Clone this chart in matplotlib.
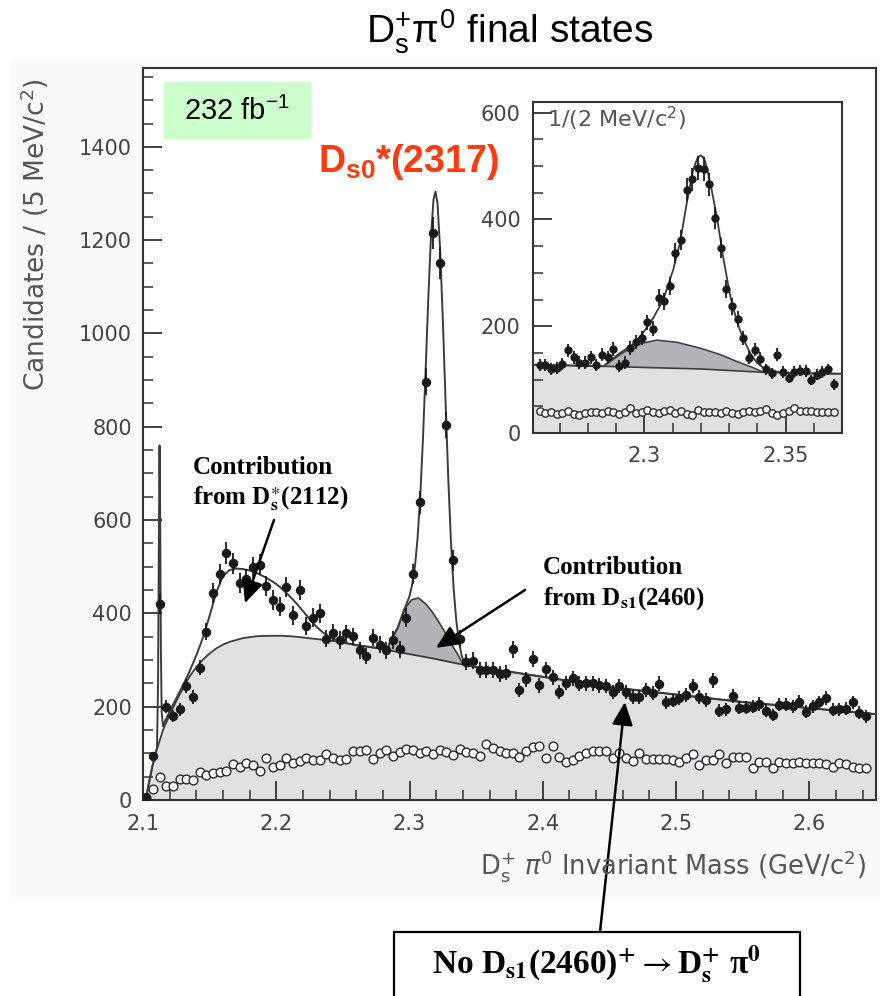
import matplotlib
matplotlib.use('Agg')
import matplotlib.pyplot as plt
import numpy as np
from matplotlib.patches import Rectangle
from matplotlib.ticker import MultipleLocator

plt.rcParams['font.family'] = ['DejaVu Sans']
plt.rcParams['mathtext.fontset'] = 'custom'
plt.rcParams['mathtext.rm'] = 'Liberation Sans'
plt.rcParams['mathtext.it'] = 'Liberation Sans'
plt.rcParams['mathtext.bf'] = 'Liberation Sans:bold'

# -------------------------
# Data: 5 MeV bins, D_s+ pi0 mass
# -------------------------
bin_width = 0.005
mass_bins = 2.1025 + bin_width * np.arange(109)
signal_counts = [
    7, 94, 420, 200, 180, 194, 244, 220, 284, 361,
    444, 484, 529, 507, 466, 473, 499, 504, 459, 429,
    414, 456, 396, 450, 373, 391, 400, 346, 359, 343,
    357, 351, 321, 309, 348, 333, 321, 343, 323, 391,
    484, 638, 897, 1215, 1151, 804, 514, 346, 295, 299,
    279, 279, 279, 270, 273, 323, 236, 259, 302, 246,
    280, 263, 232, 251, 261, 249, 250, 250, 246, 244,
    232, 244, 232, 220, 221, 236, 230, 249, 209, 213,
    218, 225, 244, 220, 214, 257, 191, 194, 223, 198,
    198, 200, 206, 191, 182, 204, 204, 201, 211, 189,
    201, 209, 218, 193, 194, 196, 209, 187, 179,
]
sideband_counts = [
    5, 23, 50, 29, 30, 46, 44, 43, 59, 54,
    57, 61, 63, 77, 71, 79, 74, 63, 89, 71,
    75, 89, 79, 84, 91, 86, 86, 98, 91, 86,
    87, 105, 106, 107, 87, 100, 107, 95, 103, 110,
    108, 100, 104, 98, 107, 102, 96, 110, 103, 100,
    94, 120, 111, 104, 100, 101, 93, 106, 113, 116,
    91, 116, 93, 82, 86, 94, 101, 106, 106, 106,
    89, 101, 89, 84, 100, 87, 87, 87, 87, 86,
    82, 90, 99, 75, 86, 86, 99, 79, 93, 93,
    93, 68, 82, 82, 68, 82, 80, 80, 82, 79,
    79, 79, 77, 70, 79, 77, 71, 68, 68,
]

# fitted background shape
bg_mass = [2.1020, 2.1040, 2.1070, 2.1100, 2.1150, 2.1200, 2.1250, 2.1300, 2.1350,
           2.1400, 2.1450, 2.1500, 2.1550, 2.1600, 2.1650, 2.1750, 2.1850, 2.1950,
           2.2050, 2.2150, 2.2300, 2.2450, 2.2600, 2.2750, 2.2900, 2.3050, 2.3200,
           2.3350, 2.3500, 2.3750, 2.4000, 2.4500, 2.5000, 2.5500, 2.6000, 2.6500]
bg_level = [0, 30, 72, 105, 150, 183, 212, 240, 265,
            285, 301, 314, 325, 333, 339, 347, 351, 352,
            352, 350, 345, 340, 332, 326, 318, 310, 302,
            293, 285, 275, 264, 242, 226, 210, 197, 184]

# D_s1(2460) reflection on top of background
refl_mass = [2.2830, 2.2856, 2.2911, 2.2963, 2.3015, 2.3067, 2.3119, 2.3171,
             2.3223, 2.3275, 2.3327, 2.3366, 2.3405, 2.3440]
refl_level = [322, 340, 369, 410, 429, 433, 421, 403, 380, 355, 328, 310, 290, 288]
refl_base_mass = [2.3350, 2.3200, 2.3050, 2.2900]
refl_base_level = [293, 302, 310, 318]

# total fit
fit_mass = [2.1020, 2.1040, 2.1070, 2.1095, 2.1105, 2.1113, 2.1119, 2.1124, 2.1129,
            2.1134, 2.1140, 2.1150, 2.1170, 2.1200, 2.1250, 2.1300, 2.1350, 2.1400,
            2.1450, 2.1500, 2.1550, 2.1600, 2.1650, 2.1700, 2.1750, 2.1800, 2.1850,
            2.1900, 2.1950, 2.2000, 2.2050, 2.2100, 2.2150, 2.2200, 2.2250, 2.2300,
            2.2350, 2.2400, 2.2450, 2.2500, 2.2550, 2.2600, 2.2750,
            2.2830, 2.2856, 2.2911, 2.2960, 2.3000, 2.3020, 2.3040, 2.3060, 2.3080,
            2.3100, 2.3120, 2.3140, 2.3160, 2.3180, 2.3195, 2.3210, 2.3230, 2.3250,
            2.3270, 2.3290, 2.3310, 2.3330, 2.3350, 2.3370, 2.3390, 2.3410, 2.3440,
            2.3500, 2.3750, 2.4000, 2.4500, 2.5000, 2.5500, 2.6000, 2.6500]
fit_total = [0, 30, 72, 100, 112, 250, 560, 760, 600,
             330, 190, 158, 172, 190, 218, 246, 276, 310,
             348, 395, 445, 480, 493, 496, 495, 492, 487,
             480, 472, 463, 451, 437, 422, 405, 388, 372,
             359, 350, 343, 338, 335, 332, 326,
             322, 340, 369, 408, 437, 462, 499, 560, 649,
             770, 916, 1070, 1204, 1288, 1304, 1278, 1177, 1027,
             856, 694, 558, 456, 387, 341, 311, 294, 288,
             285, 275, 264, 242, 226, 210, 197, 184]

# -------------------------
# Inset data: 2 MeV bins around the D_s0*(2317)
# -------------------------
inset_bins = 2.263 + 0.002 * np.arange(53)
inset_counts = [
    128, 128, 120, 122, 130, 155, 142, 132, 132, 142,
    128, 147, 142, 157, 126, 132, 159, 170, 178, 207,
    195, 253, 247, 275, 337, 362, 456, 475, 497, 494,
    466, 403, 347, 270, 237, 214, 178, 141, 156, 139,
    119, 112, 147, 114, 103, 114, 117, 116, 99, 109,
    114, 119, 91,
]
inset_sideband = [
    42, 38, 40, 36, 38, 42, 36, 34, 38, 40,
    40, 38, 42, 40, 36, 40, 47, 38, 40, 44,
    40, 38, 42, 44, 38, 42, 36, 34, 44, 40,
    40, 40, 38, 42, 38, 36, 40, 42, 40, 42,
    45, 38, 34, 38, 42, 46, 42, 42, 42, 40,
    40, 40, 40,
]
inset_bg_mass = [2.2606, 2.2855, 2.3050, 2.3197, 2.3409, 2.3550, 2.3699]
inset_bg_level = [128, 125, 122, 120, 114, 112, 111]
inset_refl_mass = [2.2855, 2.2914, 2.2973, 2.3044, 2.3114, 2.3197, 2.3268,
                   2.3327, 2.3386, 2.3421]
inset_refl_level = [125, 147, 166, 174, 170, 159, 147, 134, 122, 114]
inset_refl_base_mass = [2.3197, 2.3050, 2.2855]
inset_refl_base_level = [120, 122, 125]
inset_fit_mass = [2.2606, 2.2855, 2.2914, 2.2961, 2.2996, 2.3032, 2.3067, 2.3102,
                  2.3126, 2.3150, 2.3173, 2.3187, 2.3197, 2.3207, 2.3215, 2.3233,
                  2.3257, 2.3280, 2.3304, 2.3327, 2.3350, 2.3374, 2.3397, 2.3421,
                  2.3456, 2.3504, 2.3699]
inset_fit_total = [128, 125, 150, 166, 188, 216, 250, 306,
                   356, 431, 494, 514, 520, 517, 509, 469,
                   403, 325, 256, 209, 176, 150, 132, 122,
                   116, 112, 111]

# -------------------------
# Styling
# -------------------------
W, H = 880, 996
light_gray = '#e1e1e3'
dark_gray = '#b3b3b8'
curve_color = '#3c3c3c'
frame_color = '#333333'
label_color = '#444444'


def fpos(x, y):
    # pixel position (from top-left) -> figure fraction
    return x / W, 1 - y / H


fig = plt.figure(figsize=(8.8, 9.96), dpi=100)
fig.patch.set_facecolor('white')
fig.patches.append(Rectangle(fpos(10, 898), 870 / W, 838 / H, transform=fig.transFigure,
                             facecolor='#fafafa', edgecolor='none', zorder=-5))


def style_axes(ax):
    for s in ax.spines.values():
        s.set_color(frame_color)
        s.set_linewidth(1.5)
    ax.tick_params(which='both', direction='in', top=False, right=False,
                   color=frame_color, labelcolor=label_color, labelsize=15)
    ax.tick_params(which='major', length=14, width=1.3)
    ax.tick_params(which='minor', length=7, width=1.1)


def draw_data(ax, x, n, side, ms, sms):
    n = np.asarray(n, dtype=float)
    ax.errorbar(x, n, yerr=np.sqrt(n), fmt='o', color='#1a1a1a', ms=ms,
                elinewidth=1.3, capsize=0, zorder=6)
    ax.plot(x, side, 'o', ms=sms, mfc='white', mec='#2a2a2a', mew=1.0, zorder=5)


# -------------------------
# Main panel
# -------------------------
ax = fig.add_axes([143 / W, 1 - 800 / H, 733 / W, 732 / H])
ax.fill_between(bg_mass, 0, bg_level, color=light_gray, lw=0, zorder=1)
ax.fill(list(refl_mass) + refl_base_mass, list(refl_level) + refl_base_level,
        color=dark_gray, lw=0, zorder=2)
ax.plot(bg_mass, bg_level, color=curve_color, lw=1.3, zorder=3)
ax.plot(refl_mass, refl_level, color=curve_color, lw=1.2, zorder=3)
ax.plot(fit_mass, fit_total, color=curve_color, lw=1.4, zorder=4)
draw_data(ax, mass_bins, signal_counts, sideband_counts, 5.8, 6.3)

ax.set_xlim(2.1, 2.65)
ax.set_ylim(0, 1569)
ax.xaxis.set_major_locator(MultipleLocator(0.1))
ax.xaxis.set_minor_locator(MultipleLocator(0.02))
ax.yaxis.set_major_locator(MultipleLocator(200))
ax.yaxis.set_minor_locator(MultipleLocator(50))
style_axes(ax)
ax.tick_params(axis='x', pad=10)
ax.tick_params(axis='y', pad=8)

fig.text(*fpos(35, 235), r'Candidates / (5 MeV/c$^\mathrm{2}$)', rotation=90,
         ha='center', va='center', fontsize=19, color='#555555',
         math_fontfamily='dejavusans')
fig.text(*fpos(866, 866), r'D$_\mathrm{s}^\mathrm{+}$ $\pi^\mathrm{0}$ Invariant Mass (GeV/c$^\mathrm{2}$)',
         ha='right', va='center', fontsize=18.5, color='#555555',
         math_fontfamily='dejavusans')

# -------------------------
# Inset panel
# -------------------------
axi = fig.add_axes([533 / W, 1 - 433 / H, 309 / W, 331 / H])
axi.set_facecolor('white')
axi.fill_between(inset_bg_mass, 0, inset_bg_level, color=light_gray, lw=0, zorder=1)
axi.fill(list(inset_refl_mass) + inset_refl_base_mass,
         list(inset_refl_level) + inset_refl_base_level,
         color=dark_gray, lw=0, zorder=2)
axi.plot(inset_bg_mass, inset_bg_level, color=curve_color, lw=1.2, zorder=3)
axi.plot(inset_refl_mass, inset_refl_level, color=curve_color, lw=1.1, zorder=3)
axi.plot(inset_fit_mass, inset_fit_total, color=curve_color, lw=1.3, zorder=4)
draw_data(axi, inset_bins, inset_counts, inset_sideband, 5.0, 5.3)

axi.set_xlim(2.2606, 2.3699)
axi.set_ylim(0, 620)
axi.set_xticks([2.30, 2.35])
axi.set_xticklabels(['2.3', '2.35'])
axi.xaxis.set_minor_locator(MultipleLocator(0.01))
axi.yaxis.set_major_locator(MultipleLocator(200))
axi.yaxis.set_minor_locator(MultipleLocator(50))
style_axes(axi)
axi.tick_params(axis='x', pad=9)
axi.tick_params(axis='y', pad=9)
axi.text(0.045, 0.95, r'1/(2 MeV/c$^\mathrm{2}$)', transform=axi.transAxes,
         ha='left', va='center', fontsize=16, color='#555555',
         math_fontfamily='dejavusans')

# -------------------------
# Labels and annotations
# -------------------------
fig.text(*fpos(510, 32), r'D$_\mathrm{s}^\mathrm{+}\pi^\mathrm{0}$ final states',
         ha='center', va='center', fontsize=28, family='Liberation Sans')

fig.patches.append(Rectangle(fpos(164, 139), 147 / W, 57 / H, transform=fig.transFigure,
                             facecolor='#ccffcc', edgecolor='none', zorder=2))
fig.text(*fpos(237, 111), r'232 fb$^\mathrm{-1}$', ha='center', va='center',
         fontsize=21, family='Liberation Sans')

fig.text(*fpos(318, 162), r'D$_\mathbf{s0}$*(2317)', ha='left', va='center',
         fontsize=27, fontweight='bold', family='Liberation Sans', color='#ff3a10')

serif = dict(family='Liberation Serif', fontweight='bold', fontsize=18,
             math_fontfamily='stix', ha='left', va='center')
fig.text(*fpos(193, 467), 'Contribution', **serif)
fig.text(*fpos(193, 499), r'from D$_\mathbf{s}^{\ast}$(2112)', **serif)
fig.text(*fpos(543, 567), 'Contribution', **serif)
fig.text(*fpos(543, 599), r'from D$_\mathbf{s1}$(2460)', **serif)

arrow = dict(arrowstyle='-|>,head_length=0.7,head_width=0.32', color='black',
             lw=1.8, mutation_scale=20, shrinkA=0, shrinkB=0)
ax.annotate('', xy=(2.1765, 422), xytext=fpos(274, 520), textcoords='figure fraction',
            arrowprops=arrow, annotation_clip=False, zorder=8)
ax.annotate('', xy=(2.3198, 326), xytext=fpos(525, 590), textcoords='figure fraction',
            arrowprops=arrow, annotation_clip=False, zorder=8)
ax.annotate('', xy=(2.4616, 210), xytext=fpos(600, 932), textcoords='figure fraction',
            arrowprops=arrow, annotation_clip=False, zorder=8)

fig.patches.append(Rectangle(fpos(394, 1010), 406 / W, 78 / H, transform=fig.transFigure,
                             facecolor='white', edgecolor='black', lw=1.6, zorder=3))
fig.text(*fpos(597, 964),
         r'No D$_\mathbf{s1}$(2460)$^\mathbf{+}$$\rightarrow$D$_\mathbf{s}^\mathbf{+}$ π$^\mathbf{0}$',
         ha='center', va='center', family='Liberation Serif', fontweight='bold',
         fontsize=24, math_fontfamily='stix', zorder=4)

fig.savefig('out.png', dpi=100)
